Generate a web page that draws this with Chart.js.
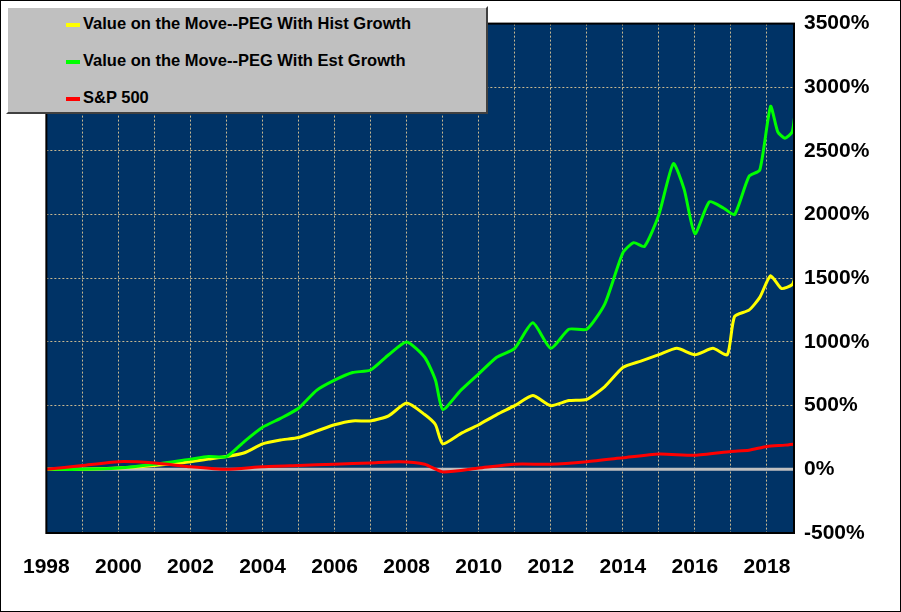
<!DOCTYPE html>
<html><head><meta charset="utf-8">
<script src="https://cdn.jsdelivr.net/npm/chart.js@4"></script>
<style>
body{margin:0;background:#fff;}
#wrap{position:relative;width:899px;height:610px;border:1px solid #000;}
#legend{position:absolute;left:5px;top:5px;width:478px;height:104px;background:#c0c0c0;
 border:2px solid;border-color:#fff #404040 #404040 #fff;font:bold 16.5px "Liberation Sans",Arial,sans-serif;}
#legend div{position:absolute;left:58px;}
#legend span{display:inline-block;width:14px;height:4px;vertical-align:middle;margin-right:3px;}
</style></head><body>
<div id="wrap"><canvas id="c" width="899" height="610"></canvas>
<div id="legend"></div></div>
<script>
const seriesNames = ['Value on the Move--PEG With Hist Growth', 'Value on the Move--PEG With Est Growth', 'S&P 500'];
const seriesColors = ['#ffff00', '#00ff00', '#ff0000'];
const histX = [1998,1999,2000,2001,2002,2002.5,2003,2003.5,2004,2004.5,2005,2005.5,2006,2006.5,2007,2007.5,2008,2008.5,2008.8,2009,2009.5,2010,2010.5,2011,2011.5,2012,2012.5,2013,2013.5,2014,2014.5,2015,2015.5,2016,2016.5,2016.9,2017.1,2017.5,2017.8,2018.1,2018.4,2018.7,2018.8];
const histY = [0,0,10,30,60,80,100,130,200,230,250,300,350,380,380,420,520,430,350,200,280,350,430,500,580,500,540,550,650,800,850,900,950,900,950,900,1200,1250,1350,1520,1420,1450,1530];
const estX = [1998,1999,2000,2001,2002,2002.5,2003,2003.5,2004,2004.5,2005,2005.5,2006,2006.5,2007,2007.5,2008,2008.5,2008.8,2009,2009.5,2010,2010.5,2011,2011.5,2012,2012.5,2013,2013.5,2014,2014.3,2014.6,2015,2015.4,2015.7,2016,2016.4,2016.8,2017.1,2017.5,2017.8,2018.1,2018.3,2018.5,2018.7,2018.8];
const estY = [0,0,10,40,80,100,100,220,330,400,480,620,700,760,780,900,1000,880,700,470,620,750,880,950,1150,950,1100,1100,1300,1700,1780,1750,2000,2400,2200,1850,2100,2050,2000,2300,2350,2850,2650,2600,2650,2850];
const spX = [1998,1999,2000,2001,2002,2003,2004,2005,2006,2007,2007.8,2008.5,2009,2010,2011,2012,2013,2014,2015,2016,2017,2017.5,2018,2018.5,2018.8];
const spY = [0,30,60,50,20,0,20,30,40,50,60,40,-20,10,40,40,60,90,120,110,140,150,180,190,200];
const yTicks = [-500,0,500,1000,1500,2000,2500,3000,3500];
const xTicks = [1998,2000,2002,2004,2006,2008,2010,2012,2014,2016,2018];

const pts = (xs, ys) => xs.map((x, i) => ({x, y: ys[i]}));
const allData = [pts(histX, histY), pts(estX, estY), pts(spX, spY)];

document.getElementById('legend').innerHTML = seriesNames.map((n, i) =>
  `<div style="top:${6 + i * 37}px"><span style="background:${seriesColors[i]}"></span>${n.replace('&','&amp;')}</div>`).join('');

const bgPlugin = {
  id: 'bg',
  beforeDraw(chart) {
    const {ctx, chartArea: a} = chart;
    ctx.save();
    ctx.fillStyle = '#003366';
    ctx.fillRect(a.left, a.top, a.width, a.height);
    ctx.restore();
  },
  beforeDatasetsDraw(chart) {
    const {ctx, chartArea: a, scales: {y}} = chart;
    const y0 = y.getPixelForValue(0);
    ctx.save();
    ctx.strokeStyle = '#c0c0c0'; ctx.lineWidth = 3;
    ctx.beginPath(); ctx.moveTo(a.left, y0); ctx.lineTo(a.right, y0); ctx.stroke();
    ctx.restore();
  },
  afterDraw(chart) {
    const {ctx, chartArea: a} = chart;
    ctx.save(); ctx.strokeStyle = '#000'; ctx.lineWidth = 2;
    ctx.strokeRect(a.left, a.top, a.width, a.height); ctx.restore();
  }
};

new Chart('c', {
  type: 'line',
  data: { datasets: allData.map((d, i) => ({
    label: seriesNames[i], data: d, borderColor: seriesColors[i],
    borderWidth: 3, pointRadius: 0, tension: 0.2, order: 2 - i })) },
  options: {
    responsive: false, animation: false,
    layout: { padding: { left: 37, top: 21, right: 0, bottom: 0 } },
    plugins: { legend: { display: false }, tooltip: { enabled: false } },
    scales: {
      x: {
        type: 'linear', min: 1998, max: 2018.75,
        afterBuildTicks: s => { s.ticks = []; for (let v = 1998; v <= 2018; v++) s.ticks.push({value: v}); },
        afterFit: s => { s.height = 78; },
        grid: { color: '#c8b890', lineWidth: 1, drawTicks: false },
        border: { display: false, dash: [2, 2] },
        ticks: { color: '#000', padding: 22, font: { size: 21, weight: 'bold', family: '"Liberation Sans", Arial' },
          maxRotation: 0, autoSkip: false,
          callback: v => xTicks.includes(v) ? String(v) : '' }
      },
      y: {
        position: 'right', min: -500, max: 3500,
        afterBuildTicks: s => { s.ticks = yTicks.map(v => ({value: v})); },
        afterFit: s => { s.width = 106; },
        grid: { color: '#c8b890', lineWidth: 1, drawTicks: false },
        border: { display: false, dash: [2, 2] },
        ticks: { color: '#000', padding: 10, font: { size: 21, weight: 'bold', family: '"Liberation Sans", Arial' },
          callback: v => v + '%' }
      }
    }
  },
  plugins: [bgPlugin]
});
</script></body></html>
